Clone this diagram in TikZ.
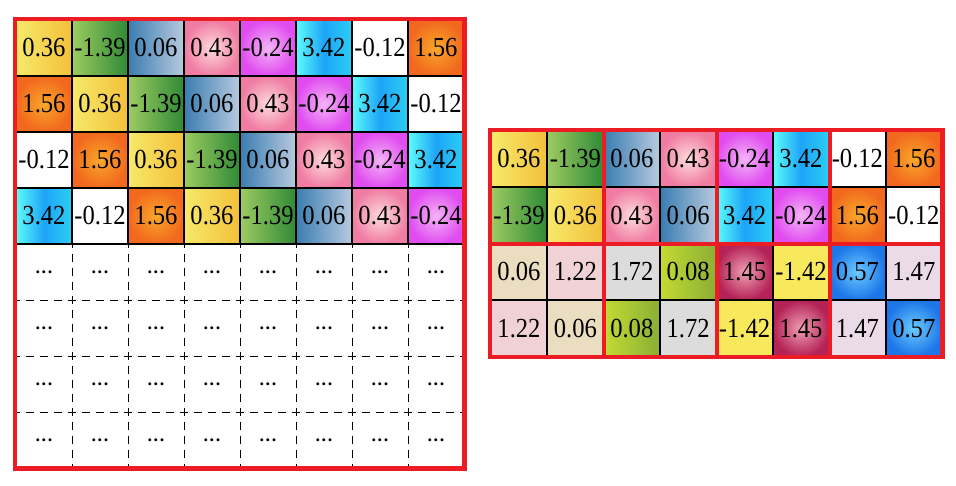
\documentclass[tikz,border=0pt]{standalone}
\usepackage{fontspec}
\setmainfont{Liberation Serif}
\usepackage{xcolor}
\definecolor{gridred}{HTML}{EC1C24}
\definecolor{yelA}{HTML}{F7E96A}
\definecolor{yelB}{HTML}{F3C03A}
\definecolor{grnA}{HTML}{9DCB62}
\definecolor{grnB}{HTML}{2F8A36}
\definecolor{bluA}{HTML}{3A7DB1}
\definecolor{bluB}{HTML}{B8CADF}
\definecolor{pnkA}{HTML}{FDDCDC}
\definecolor{pnkB}{HTML}{F07BA3}
\definecolor{magA}{HTML}{F5B4F7}
\definecolor{magB}{HTML}{E04CF0}
\definecolor{cyA}{HTML}{5CFCFC}
\definecolor{cyB}{HTML}{1EA4F7}
\definecolor{cyC}{HTML}{2CCFF5}
\definecolor{orA}{HTML}{F8A82A}
\definecolor{orB}{HTML}{F2681E}
\definecolor{beige}{HTML}{EADDC0}
\definecolor{ltpink}{HTML}{F0D2D6}
\definecolor{ltgray}{HTML}{DCDCDC}
\definecolor{ygA}{HTML}{C4DA32}
\definecolor{ygB}{HTML}{8AAE36}
\definecolor{crA}{HTML}{EDA0B4}
\definecolor{crB}{HTML}{B52257}
\definecolor{yelC}{HTML}{F8E85C}
\definecolor{blA}{HTML}{6ACBFF}
\definecolor{blB}{HTML}{1E76E8}
\definecolor{lav}{HTML}{EBDBE8}
\newcommand{\cellnum}[1]{\scalebox{1}[1.12]{#1}}
\newcommand{\celldots}{.\kern0.8pt.\kern0.8pt.}

\begin{document}
\begin{tikzpicture}[x=0.5pt, y=-0.5pt,
    cell/.style={draw=black, line width=0.8pt, minimum size=28pt, inner sep=0pt,
      font=\fontsize{12.3}{14}\selectfont},
    dotcell/.style={minimum size=28pt, inner sep=0pt, font=\fontsize{9}{10}\bfseries},
    griddash/.style={line width=0.9pt, dash pattern=on 4pt off 3pt, dash phase=2pt},
    redframe/.style={draw=gridred, line width=2.2pt},
    tone/.style={#1},
    vA/.style={left color=yelA, right color=yelB},
    vB/.style={left color=grnA, right color=grnB},
    vC/.style={left color=bluA, right color=bluB},
    vD/.style={inner color=pnkA, outer color=pnkB},
    vE/.style={inner color=magA, outer color=magB},
    vF/.style={left color=cyA, right color=cyC, middle color=cyB},
    vG/.style={fill=white},
    vH/.style={inner color=orA, outer color=orB},
    wA/.style={fill=beige},
    wB/.style={fill=ltpink},
    wC/.style={fill=ltgray},
    wD/.style={left color=ygA, right color=ygB},
    wE/.style={inner color=crA, outer color=crB},
    wF/.style={fill=yelC},
    wG/.style={inner color=blA, outer color=blB},
    wH/.style={fill=lav}
  ]
  \useasboundingbox (0,0) rectangle (956,486);

  \foreach \row [count=\r from 0] in {
      {vA/0.36,vB/-1.39,vC/0.06,vD/0.43,vE/-0.24,vF/3.42,vG/-0.12,vH/1.56},
      {vH/1.56,vA/0.36,vB/-1.39,vC/0.06,vD/0.43,vE/-0.24,vF/3.42,vG/-0.12},
      {vG/-0.12,vH/1.56,vA/0.36,vB/-1.39,vC/0.06,vD/0.43,vE/-0.24,vF/3.42},
      {vF/3.42,vG/-0.12,vH/1.56,vA/0.36,vB/-1.39,vC/0.06,vD/0.43,vE/-0.24}}
    \foreach \s/\v [count=\c from 0] in \row
      \node[cell, tone/.expanded=\s] (L-\r-\c) at ({44+56*\c},{48+56*\r}) {\cellnum{\v}};

  \foreach \r in {4,...,7}
    \foreach \c in {0,...,7}
      \node[dotcell] (L-\r-\c) at ({44+56*\c},{48+56*\r}) {\celldots};

  \foreach \c in {0,...,6}
    \draw[griddash] (L-4-\c.north east) -- (L-7-\c.south east);
  \foreach \r in {4,5,6}
    \draw[griddash] (L-\r-0.south west) -- (L-\r-7.south east);

  \draw[redframe] (L-0-0.north west) rectangle (L-7-7.south east);

  \foreach \row [count=\r from 0] in {
      {vA/0.36,vB/-1.39,vC/0.06,vD/0.43,vE/-0.24,vF/3.42,vG/-0.12,vH/1.56},
      {vB/-1.39,vA/0.36,vD/0.43,vC/0.06,vF/3.42,vE/-0.24,vH/1.56,vG/-0.12},
      {wA/0.06,wB/1.22,wC/1.72,wD/0.08,wE/1.45,wF/-1.42,wG/0.57,wH/1.47},
      {wB/1.22,wA/0.06,wD/0.08,wC/1.72,wF/-1.42,wE/1.45,wH/1.47,wG/0.57}}
    \foreach \s/\v [count=\c from 0] in \row
      \node[cell, tone/.expanded=\s] (R-\r-\c) at ({519+56.4*\c},{159+56.4*\r}) {\cellnum{\v}};

  \foreach \c in {1,3,5}
    \draw[redframe] (R-0-\c.north east) -- (R-3-\c.south east);
  \draw[redframe] (R-1-0.south west) -- (R-1-7.south east);
  \draw[redframe] (R-0-0.north west) rectangle (R-3-7.south east);
\end{tikzpicture}
\end{document}
